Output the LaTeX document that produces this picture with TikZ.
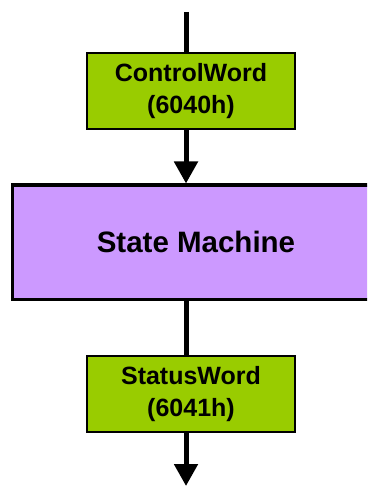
\documentclass[tikz,border=0pt]{standalone}
\usepackage{fontspec}
\setmainfont{Liberation Sans}
\usetikzlibrary{arrows.meta}
\definecolor{objgreen}{HTML}{99CC00}
\definecolor{smpurple}{HTML}{CC99FF}
\tikzset{
  objbox/.style={draw=black, line width=2pt, fill=objgreen, minimum width=208pt,
    minimum height=76pt, inner sep=0pt, align=center,
    font=\fontsize{25}{32}\selectfont\bfseries},
  smbox/.style={draw=black, line width=3pt, fill=smpurple, minimum width=368pt,
    minimum height=114pt, inner sep=0pt, font=\fontsize{29.5}{32}\selectfont\bfseries},
  flow/.style={line width=5pt},
  flowarrow/.style={flow, -{Triangle[width=23pt,length=22pt]}}
}
\begin{document}
\begin{tikzpicture}[x=1pt,y=-1pt]
  \useasboundingbox (0,0) rectangle (367,486);
  \clip (0,0) rectangle (367,486);
  % objects and state machine
  \node[objbox] (cw) at (191,91) {ControlWord\\(6040h)};
  \node[smbox] (sm) at (196,242) {State Machine};
  \node[objbox] (sw) at (191,394) {StatusWord\\(6041h)};
  \coordinate (in) at (186,12);
  \coordinate (out) at (186,486);
  % flow lines
  \draw[flow] (in) -- (in |- cw.north);
  \draw[flowarrow] (cw.south -| in) -- (sm.north -| in);
  \draw[flow] (sm.south -| in) -- (sw.north -| in);
  \draw[flowarrow] (sw.south -| in) -- (out);
\end{tikzpicture}
\end{document}
